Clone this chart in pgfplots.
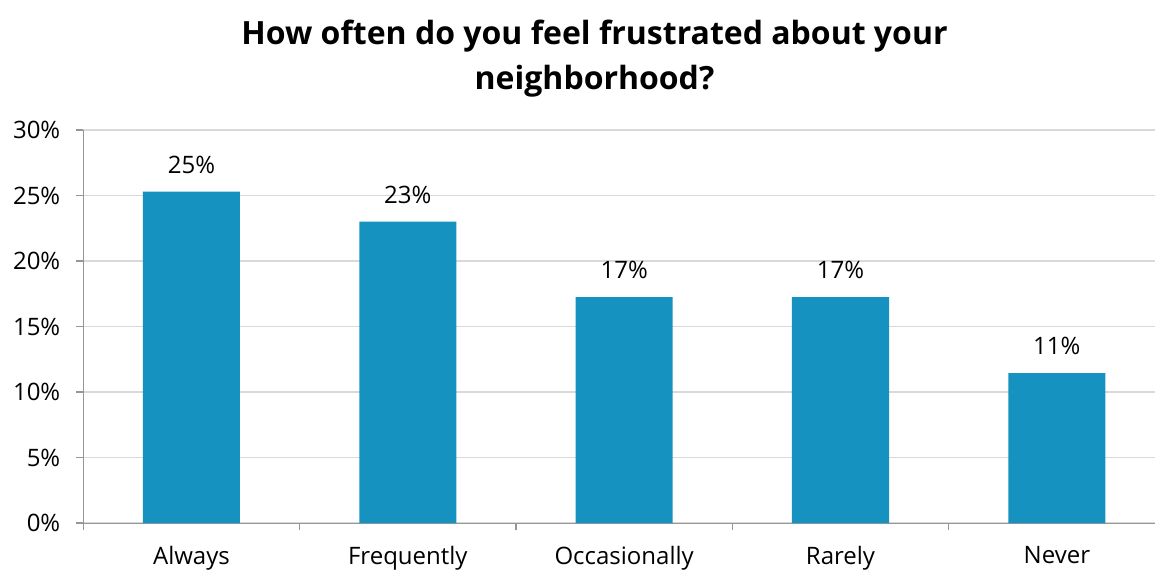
\documentclass[border=0pt]{standalone}
\usepackage{pgfplots}
\pgfplotsset{compat=1.18}
\usepackage{fontspec}
\setmainfont{Open Sans}
\definecolor{barblue}{RGB}{21,146,192}
\definecolor{gridgray}{RGB}{217,217,217}
\definecolor{axisgray}{RGB}{150,150,150}
\begin{document}
\begin{tikzpicture}
\path[use as bounding box] (0pt,0pt) rectangle (577.5pt,285pt);
\node[align=center, font=\bfseries\fontsize{16}{22.5}\selectfont] at (297.25pt,255.75pt) {How often do you feel frustrated about your\\neighborhood?};
\begin{axis}[
  at={(41.65pt,23.5pt)}, anchor=south west,
  scale only axis, width=540.85pt, height=196.5pt,
  xmin=-0.5, xmax=4.5, ymin=0, ymax=30,
  axis lines=left,
  axis line style={axisgray, -},
  tick style={axisgray, line width=0.6pt},
  tick align=outside,
  major tick length=3.5pt,
  ytick={0,5,...,30},
  yticklabel={\pgfmathprintnumber{\tick}\%},
  ymajorgrids,
  grid style={gridgray, line width=0.6pt},
  xtick={-0.5,0.5,1.5,2.5,3.5,4.5},
  xticklabels={},
  extra x ticks={0,1,2,3,4},
  extra x tick labels={Always,Frequently,Occasionally,Rarely,Never},
  extra x tick style={major tick length=0pt, grid=none},
  /pgf/number format/assume math mode=true,
  ticklabel style={font=\fontsize{12}{14}\selectfont, text=black},
  yticklabel style={xshift=-4.5pt},
  xticklabel style={yshift=-8pt},
  clip=false,
]
\addplot[ybar, bar width=48.5pt, fill=barblue, draw=none,
  nodes near coords={\pgfmathprintnumber[fixed,precision=0]{\pgfplotspointmeta}\%},
  nodes near coords style={font=\fontsize{12}{14}\selectfont, text=black, anchor=south, yshift=5.5pt},
] coordinates {(0,25.3) (1,23.0) (2,17.25) (3,17.25) (4,11.45)};
\end{axis}
\end{tikzpicture}
\end{document}
